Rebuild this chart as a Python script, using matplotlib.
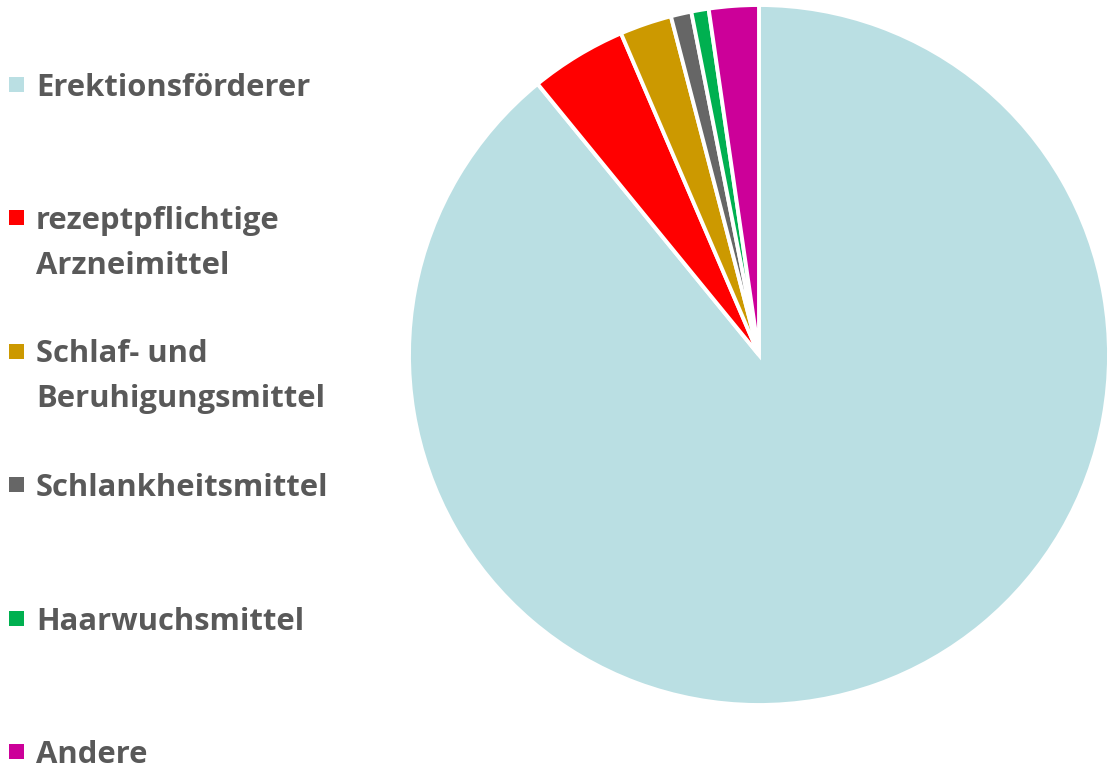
import matplotlib.pyplot as plt
from matplotlib.patches import Rectangle

# Shares of the pie (percent), clockwise from 12 o'clock
labels = ['Erektionsförderer', 'rezeptpflichtige\nArzneimittel',
          'Schlaf- und\nBeruhigungsmittel', 'Schlankheitsmittel',
          'Haarwuchsmittel', 'Andere']
shares = [89.1, 4.45, 2.4, 0.95, 0.8, 2.3]
colors = ['#BADFE3', '#FF0000', '#CC9900', '#666666', '#00B050', '#CC0099']

W, H = 1109, 772
fig = plt.figure(figsize=(W / 100, H / 100), dpi=100)

# pie box: center (759, 355), radius 350 px
cx, cy, r = 759, 355, 350
ax = fig.add_axes([(cx - r) / W, 1 - (cy + r) / H, 2 * r / W, 2 * r / H])
ax.pie(shares, colors=colors, startangle=90, counterclock=False,
       wedgeprops=dict(edgecolor='white', linewidth=2.8))
ax.set_xlim(-1, 1)
ax.set_ylim(-1, 1)
ax.set_aspect('equal')
ax.axis('off')

# legend on the left, drawn by hand so the rows are evenly spaced
text_color = '#595959'
y0, step = 84, 133.5
line_gap = 45
sq = 15
for i, (label, color) in enumerate(zip(labels, colors)):
    ym = y0 + i * step
    fig.add_artist(Rectangle((9 / W, 1 - (ym + sq / 2) / H), sq / W, sq / H,
                             transform=fig.transFigure, facecolor=color,
                             edgecolor='none'))
    for j, line in enumerate(label.split('\n')):
        fig.text(36 / W, 1 - (ym + 11.5 + j * line_gap) / H, line,
                 ha='left', va='baseline', fontsize=22.3, fontweight='bold',
                 family='Open Sans', color=text_color)

fig.savefig('out.png', dpi=100)
